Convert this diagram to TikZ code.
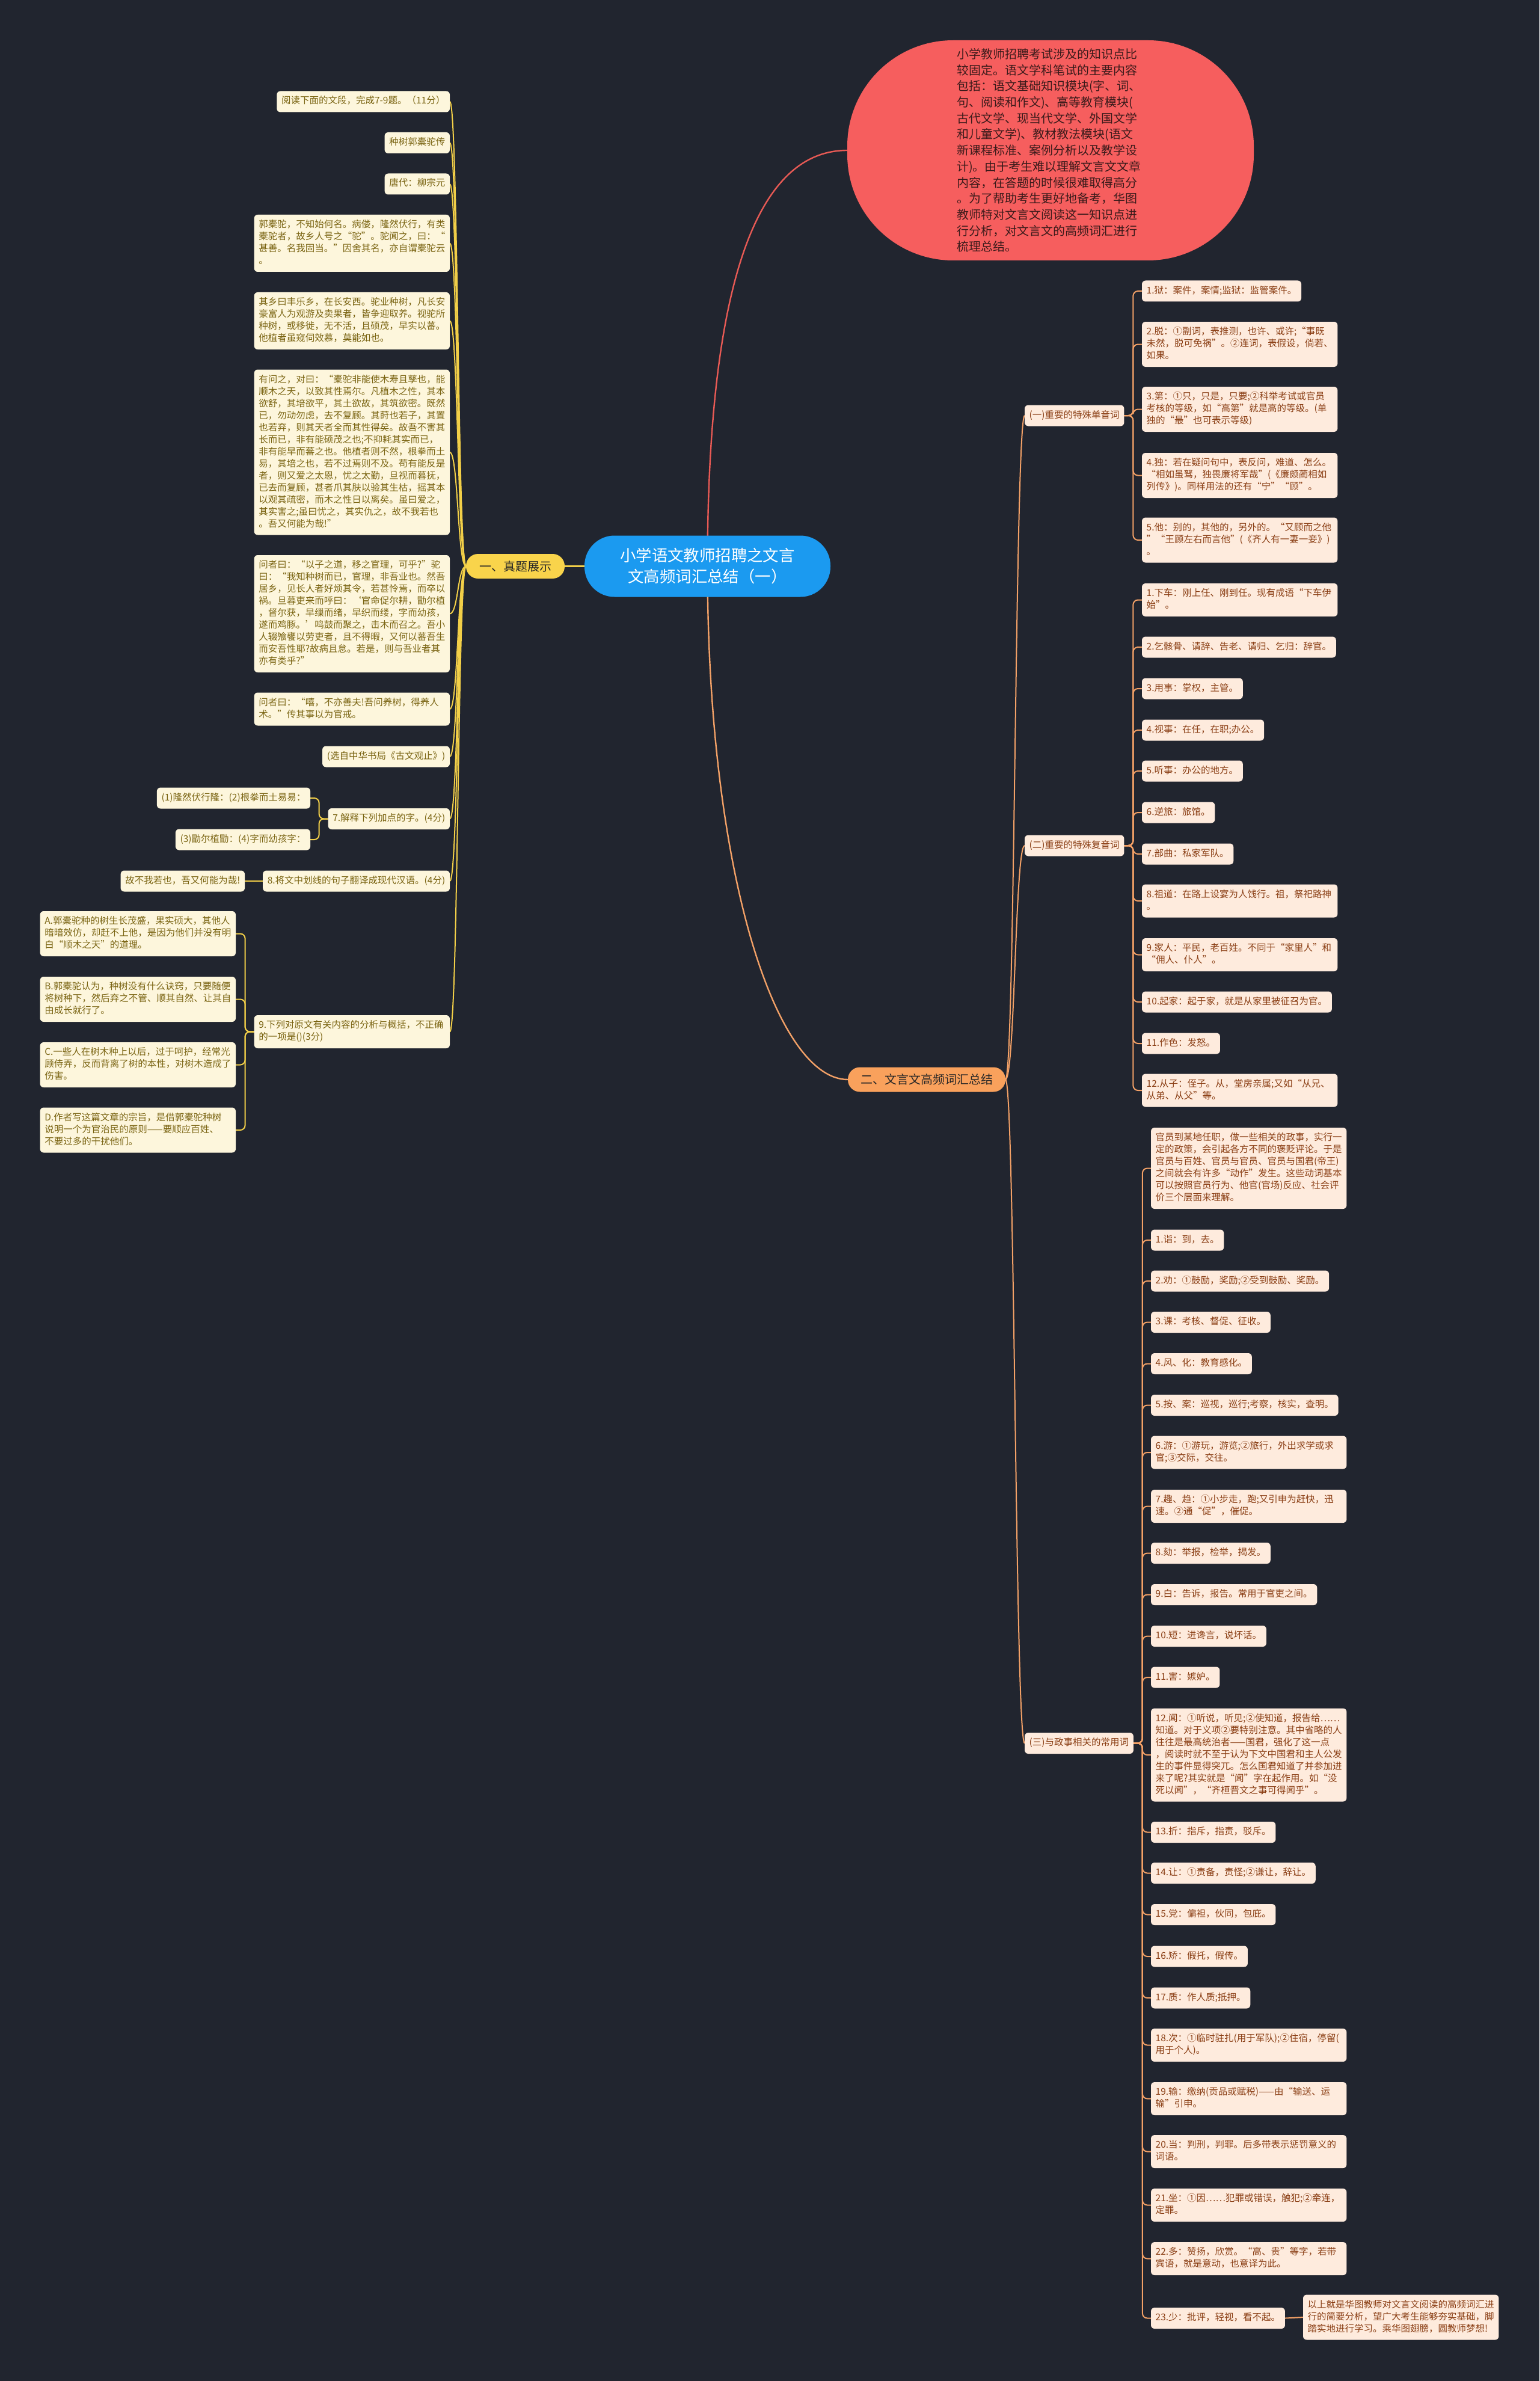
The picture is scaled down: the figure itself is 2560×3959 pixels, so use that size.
\documentclass[tikz,border=0pt]{standalone}
\usepackage{fontspec}
\setmainfont{Noto Sans CJK SC}
\definecolor{bgc}{HTML}{21252F}
\definecolor{yline}{HTML}{F2CF48}
\definecolor{yfill}{HTML}{FDF6DC}
\definecolor{ytext}{HTML}{7A6412}
\definecolor{ymain}{HTML}{F9D44B}
\definecolor{oline}{HTML}{F3A167}
\definecolor{ofill}{HTML}{FEEBDD}
\definecolor{otext}{HTML}{8A3E14}
\definecolor{omain}{HTML}{F9A15C}
\definecolor{redc}{HTML}{F65E5E}
\definecolor{redline}{HTML}{E85A55}
\definecolor{redtext}{HTML}{3A1A1A}
\definecolor{bluec}{HTML}{1B9AF0}
\newcommand\mybegstrut{\noindent\strut}
\pgfdeclarelayer{bgl}
\pgfdeclarelayer{edges}
\pgfsetlayers{bgl,edges,main}
\begin{document}
\begin{tikzpicture}[x=0.25pt,y=-0.25pt,
 every node/.style={inner sep=0pt,outer sep=0pt},
 leaf/.style={rounded corners=1.5pt,inner xsep=1.925pt,inner ysep=1.875pt,
   font={\fontsize{3.875pt}{5pt}\selectfont},
   execute at begin node=\mybegstrut,execute at end node=\strut},
 ybox/.style={leaf,fill=yfill,text=ytext},
 ywide/.style={ybox,text width=77.5pt,align=left},
 obox/.style={leaf,fill=ofill,text=otext},
 owide/.style={obox,text width=77.5pt,align=left},
 yedge/.style={draw=yline,line width=0.5pt},
 oedge/.style={draw=oline,line width=0.5pt},
 mainnode/.style={font={\fontsize{5pt}{6.5pt}\selectfont},text=black!85,minimum height=10.25pt,rounded corners=5pt}
]
\useasboundingbox (0,0) rectangle (2560,3959);
\begin{pgfonlayer}{bgl}
\fill[bgc] (0,0) rectangle (2560,3959);
\end{pgfonlayer}

% central and main nodes
\node[fill=bluec,text=white,align=center,minimum width=102.25pt,minimum height=25.5pt,rounded corners=12.5pt,
  font={\fontsize{6.6pt}{8.75pt}\selectfont}] (ctr) at (1176.5,941.5) {小学语文教师招聘之文言\\文高频词汇总结（一）};
\node[fill=redc,text=redtext,text width=78pt,align=left,minimum width=169pt,minimum height=91.5pt,rounded corners=44pt,
  font={\fontsize{5pt}{6.67pt}\selectfont}] (red) at (1747,250) {小学教师招聘考试涉及的知识点比\\较固定。语文学科笔试的主要内容\\包括：语文基础知识模块(字、词、\\句、阅读和作文)、高等教育模块(\\古代文学、现当代文学、外国文学\\和儿童文学)、教材教法模块(语文\\新课程标准、案例分析以及教学设\\计)。由于考生难以理解文言文文章\\内容，在答题的时候很难取得高分\\。为了帮助考生更好地备考，华图\\教师特对文言文阅读这一知识点进\\行分析，对文言文的高频词汇进行\\梳理总结。};
\node[mainnode,fill=ymain,minimum width=41pt] (yel) at (857,941.5) {一、真题展示};
\node[mainnode,fill=omain,minimum width=65.5pt] (org) at (1541,1795) {二、文言文高频词汇总结};

% yellow branch
\node[ybox,anchor=east] (y1) at (748,169) {阅读下面的文段，完成7-9题。（11分）};
\node[ybox,anchor=east] (y2) at (748,237.5) {种树郭橐驼传};
\node[ybox,anchor=east] (y3) at (748,306) {唐代：柳宗元};
\node[ywide,anchor=east] (y4) at (748,404.5) {郭橐驼，不知始何名。病偻，隆然伏行，有类\\橐驼者，故乡人号之“驼”。驼闻之，曰：“\\甚善。名我固当。”因舍其名，亦自谓橐驼云\\。};
\node[ywide,anchor=east] (y5) at (748,533.5) {其乡曰丰乐乡，在长安西。驼业种树，凡长安\\豪富人为观游及卖果者，皆争迎取养。视驼所\\种树，或移徙，无不活，且硕茂，早实以蕃。\\他植者虽窥伺效慕，莫能如也。};
\node[ywide,anchor=east] (y6) at (748,752) {有问之，对曰：“橐驼非能使木寿且孳也，能\\顺木之天，以致其性焉尔。凡植木之性，其本\\欲舒，其培欲平，其土欲故，其筑欲密。既然\\已，勿动勿虑，去不复顾。其莳也若子，其置\\也若弃，则其天者全而其性得矣。故吾不害其\\长而已，非有能硕茂之也;不抑耗其实而已，\\非有能早而蕃之也。他植者则不然，根拳而土\\易，其培之也，若不过焉则不及。苟有能反是\\者，则又爱之太恩，忧之太勤，旦视而暮抚，\\已去而复顾，甚者爪其肤以验其生枯，摇其本\\以观其疏密，而木之性日以离矣。虽曰爱之，\\其实害之;虽曰忧之，其实仇之，故不我若也\\。吾又何能为哉!”};
\node[ywide,anchor=east] (y7) at (748,1020.5) {问者曰：“以子之道，移之官理，可乎?”驼\\曰：“我知种树而已，官理，非吾业也。然吾\\居乡，见长人者好烦其令，若甚怜焉，而卒以\\祸。旦暮吏来而呼曰：‘官命促尔耕，勖尔植\\，督尔获，早缫而绪，早织而缕，字而幼孩，\\遂而鸡豚。’鸣鼓而聚之，击木而召之。吾小\\人辍飧饔以劳吏者，且不得暇，又何以蕃吾生\\而安吾性耶?故病且怠。若是，则与吾业者其\\亦有类乎?”};
\node[ywide,anchor=east] (y8) at (748,1179) {问者曰：“嘻，不亦善夫!吾问养树，得养人\\术。”传其事以为官戒。};
\node[ybox,anchor=east] (y9) at (748,1258) {(选自中华书局《古文观止》)};
\node[ybox,anchor=east] (y10) at (748,1361.5) {7.解释下列加点的字。(4分)};
\node[ybox,anchor=east] (y11) at (748,1465) {8.将文中划线的句子翻译成现代汉语。(4分)};
\node[ywide,anchor=east] (y12) at (748,1715.5) {9.下列对原文有关内容的分析与概括，不正确\\的一项是()(3分)};

\node[ybox,anchor=east] (q1) at (516,1327) {(1)隆然伏行隆：(2)根拳而土易易：};
\node[ybox,anchor=east] (q3) at (516,1396) {(3)勖尔植勖：(4)字而幼孩字：};
\node[ybox,anchor=east] (g8) at (407,1465) {故不我若也，吾又何能为哉!};
\node[ywide,anchor=east] (oA) at (392,1552.5) {A.郭橐驼种的树生长茂盛，果实硕大，其他人\\暗暗效仿，却赶不上他，是因为他们并没有明\\白“顺木之天”的道理。};
\node[ywide,anchor=east] (oB) at (392,1661.5) {B.郭橐驼认为，种树没有什么诀窍，只要随便\\将树种下，然后弃之不管、顺其自然、让其自\\由成长就行了。};
\node[ywide,anchor=east] (oC) at (392,1770.5) {C.一些人在树木种上以后，过于呵护，经常光\\顾侍弄，反而背离了树的本性，对树木造成了\\伤害。};
\node[ywide,anchor=east] (oD) at (392,1879) {D.作者写这篇文章的宗旨，是借郭橐驼种树\\说明一个为官治民的原则——要顺应百姓、\\不要过多的干扰他们。};

% orange branch
\node[obox,anchor=west] (s1) at (1704,691) {(一)重要的特殊单音词};
\node[obox,anchor=west] (s2) at (1704,1406) {(二)重要的特殊复音词};
\node[obox,anchor=west] (s3) at (1704,2898.5) {(三)与政事相关的常用词};

\node[obox,anchor=west] (a1) at (1899,484) {1.狱：案件，案情;监狱：监管案件。};
\node[owide,anchor=west] (a2) at (1899,572.5) {2.脱：①副词，表推测，也许、或许;“事既\\未然，脱可免祸”。②连词，表假设，倘若、\\如果。};
\node[owide,anchor=west] (a3) at (1899,680.5) {3.第：①只，只是，只要;②科举考试或官员\\考核的等级，如“高第”就是高的等级。(单\\独的“最”也可表示等级)};
\node[owide,anchor=west] (a4) at (1899,790.5) {4.独：若在疑问句中，表反问，难道、怎么。\\“相如虽驽，独畏廉将军哉”(《廉颇蔺相如\\列传》)。同样用法的还有“宁”“顾”。};
\node[owide,anchor=west] (a5) at (1899,898) {5.他：别的，其他的，另外的。“又顾而之他\\”“王顾左右而言他”(《齐人有一妻一妾》)\\。};

\node[owide,anchor=west] (b1) at (1899,997.5) {1.下车：刚上任、刚到任。现有成语“下车伊\\始”。};
\node[obox,anchor=west] (b2) at (1899,1076) {2.乞骸骨、请辞、告老、请归、乞归：辞官。};
\node[obox,anchor=west] (b3) at (1899,1145) {3.用事：掌权，主管。};
\node[obox,anchor=west] (b4) at (1899,1214) {4.视事：在任，在职;办公。};
\node[obox,anchor=west] (b5) at (1899,1282) {5.听事：办公的地方。};
\node[obox,anchor=west] (b6) at (1899,1351) {6.逆旅：旅馆。};
\node[obox,anchor=west] (b7) at (1899,1420) {7.部曲：私家军队。};
\node[owide,anchor=west] (b8) at (1899,1498) {8.祖道：在路上设宴为人饯行。祖，祭祀路神\\。};
\node[owide,anchor=west] (b9) at (1899,1587.5) {9.家人：平民，老百姓。不同于“家里人”和\\“佣人、仆人”。};
\node[obox,anchor=west] (b10) at (1899,1666) {10.起家：起于家，就是从家里被征召为官。};
\node[obox,anchor=west] (b11) at (1899,1735) {11.作色：发怒。};
\node[owide,anchor=west] (b12) at (1899,1813) {12.从子：侄子。从，堂房亲属;又如“从兄、\\从弟、从父”等。};

\node[owide,anchor=west] (c0) at (1914,1942.5) {官员到某地任职，做一些相关的政事，实行一\\定的政策，会引起各方不同的褒贬评论。于是\\官员与百姓、官员与官员、官员与国君(帝王)\\之间就会有许多“动作”发生。这些动词基本\\可以按照官员行为、他官(官场)反应、社会评\\价三个层面来理解。};
\node[obox,anchor=west] (c1) at (1914,2062) {1.诣：到，去。};
\node[obox,anchor=west] (c2) at (1914,2130) {2.劝：①鼓励，奖励;②受到鼓励、奖励。};
\node[obox,anchor=west] (c3) at (1914,2198.5) {3.课：考核、督促、征收。};
\node[obox,anchor=west] (c4) at (1914,2267.5) {4.风、化：教育感化。};
\node[obox,anchor=west] (c5) at (1914,2336.5) {5.按、案：巡视，巡行;考察，核实，查明。};
\node[owide,anchor=west] (c6) at (1914,2415) {6.游：①游玩，游览;②旅行，外出求学或求\\官;③交际，交往。};
\node[owide,anchor=west] (c7) at (1914,2504.5) {7.趣、趋：①小步走，跑;又引申为赶快，迅\\速。②通“促”，催促。};
\node[obox,anchor=west] (c8) at (1914,2582.5) {8.劾：举报，检举，揭发。};
\node[obox,anchor=west] (c9) at (1914,2651.5) {9.白：告诉，报告。常用于官吏之间。};
\node[obox,anchor=west] (c10) at (1914,2720.5) {10.短：进谗言，说坏话。};
\node[obox,anchor=west] (c11) at (1914,2789) {11.害：嫉妒。};
\node[owide,anchor=west] (c12) at (1914,2918) {12.闻：①听说，听见;②使知道，报告给……\\知道。对于义项②要特别注意。其中省略的人\\往往是最高统治者——国君，强化了这一点\\，阅读时就不至于认为下文中国君和主人公发\\生的事件显得突兀。怎么国君知道了并参加进\\来了呢?其实就是“闻”字在起作用。如“没\\死以闻”，“齐桓晋文之事可得闻乎”。};
\node[obox,anchor=west] (c13) at (1914,3046.5) {13.折：指斥，指责，驳斥。};
\node[obox,anchor=west] (c14) at (1914,3114.5) {14.让：①责备，责怪;②谦让，辞让。};
\node[obox,anchor=west] (c15) at (1914,3183.5) {15.党：偏袒，伙同，包庇。};
\node[obox,anchor=west] (c16) at (1914,3253) {16.矫：假托，假传。};
\node[obox,anchor=west] (c17) at (1914,3322) {17.质：作人质;抵押。};
\node[owide,anchor=west] (c18) at (1914,3400.5) {18.次：①临时驻扎(用于军队);②住宿，停留(\\用于个人)。};
\node[owide,anchor=west] (c19) at (1914,3489.5) {19.输：缴纳(贡品或赋税)——由“输送、运\\输”引申。};
\node[owide,anchor=west] (c20) at (1914,3577.5) {20.当：判刑，判罪。后多带表示惩罚意义的\\词语。};
\node[owide,anchor=west] (c21) at (1914,3666.5) {21.坐：①因……犯罪或错误，触犯;②牵连，\\定罪。};
\node[owide,anchor=west] (c22) at (1914,3755.5) {22.多：赞扬，欣赏。“高、贵”等字，若带\\宾语，就是意动，也意译为此。};
\node[obox,anchor=west] (c23) at (1914,3854.5) {23.少：批评，轻视，看不起。};
\node[owide,anchor=west] (fin) at (2167,3853) {以上就是华图教师对文言文阅读的高频词汇进\\行的简要分析，望广大考生能够夯实基础，脚\\踏实地进行学习。乘华图翅膀，圆教师梦想!};

% connectors
\begin{pgfonlayer}{edges}
\draw[draw=redline,line width=0.6pt] (ctr.center) .. controls +(0,-412) and +(-169,0) .. (red.west);
\draw[draw=oline,line width=0.6pt] (ctr.center) .. controls +(0,508) and +(-120,0) .. (org.west);
\draw[draw=yline,line width=0.6pt] (ctr.west) -- (yel.east);
\foreach \n in {y1,y2,y3,y4,y5,y6,y7,y8,y9,y10,y11,y12}
  \draw[yedge] (yel.west) .. controls +(-14,0) and +(14,0) .. (\n.east);
\foreach \n in {q1,q3}
  \draw[yedge,rounded corners=2pt] (y10.west) -- ++(-15,0) |- (\n.east);
\draw[yedge] (y11.west) -- (g8.east);
\foreach \n in {oA,oB,oC,oD}
  \draw[yedge,rounded corners=2pt] (y12.west) -- ++(-15,0) |- (\n.east);
\foreach \n in {s1,s2,s3}
  \draw[oedge] (org.east) .. controls +(16,0) and +(-16,0) .. (\n.west);
\foreach \n in {a1,a2,a3,a4,a5}
  \draw[oedge,rounded corners=2pt] (s1.east) -- ++(15,0) |- (\n.west);
\foreach \n in {b1,b2,b3,b4,b5,b6,b7,b8,b9,b10,b11,b12}
  \draw[oedge,rounded corners=2pt] (s2.east) -- ++(15,0) |- (\n.west);
\foreach \n in {c0,c1,c2,c3,c4,c5,c6,c7,c8,c9,c10,c11,c12,c13,c14,c15,c16,c17,c18,c19,c20,c21,c22,c23}
  \draw[oedge,rounded corners=2pt] (s3.east) -- ++(15,0) |- (\n.west);
\draw[oedge] (c23.east) -- (fin.west);
\end{pgfonlayer}
\end{tikzpicture}
\end{document}
